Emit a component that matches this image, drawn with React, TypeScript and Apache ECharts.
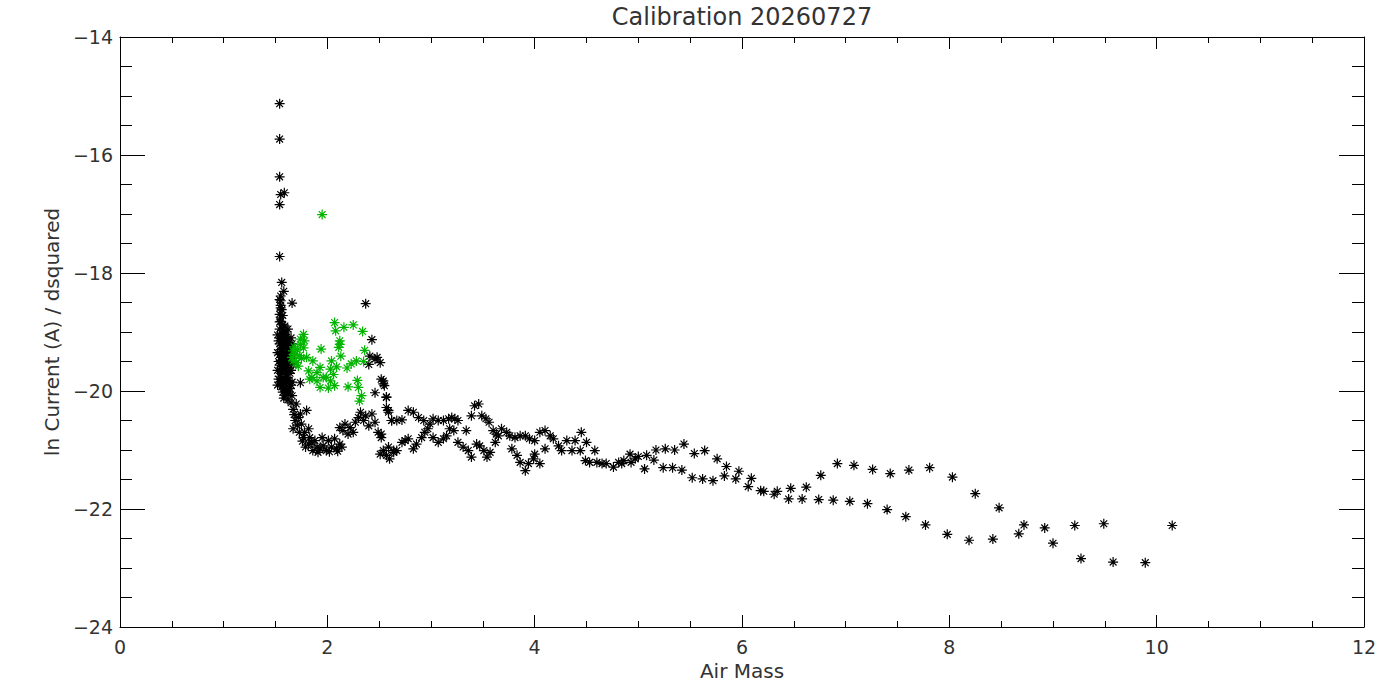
import React, { useEffect, useRef } from "react";
import * as echarts from "echarts";

const TITLE = "Calibration 20260727";
const X_NAME = "Air Mass";
const Y_NAME = "ln Current (A) / dsquared";
const X_MIN = 0;
const X_MAX = 12;
const X_STEP = 2;
const Y_MIN = -24;
const Y_MAX = -14;
const Y_STEP = 2;

// black points: outliers above the cluster
const blackSpike: number[][] = [
  [1.54, -15.13], [1.54, -15.73], [1.54, -16.37], [1.55, -16.67], [1.585, -16.64],
  [1.54, -16.84], [1.54, -17.72], [1.56, -18.16], [1.58, -18.31], [1.55, -18.39],
  [1.55, -18.47], [1.66, -18.51], [1.55, -18.59], [1.54, -18.83], [2.37, -18.52],
];

// black points: dense column near air mass 1.55
const blackCluster: number[][] = [
  [1.54, -18.45], [1.55, -18.55], [1.56, -18.62], [1.54, -18.70], [1.55, -18.82],
  [1.57, -18.88], [1.54, -18.95], [1.56, -19.02], [1.58, -19.05], [1.60, -19.08],
  [1.55, -19.10], [1.57, -19.14], [1.59, -19.17], [1.62, -19.12], [1.54, -19.20],
  [1.56, -19.23], [1.58, -19.26], [1.61, -19.22], [1.63, -19.18], [1.55, -19.30],
  [1.57, -19.33], [1.60, -19.35], [1.62, -19.30], [1.54, -19.38], [1.56, -19.41],
  [1.59, -19.44], [1.61, -19.40], [1.64, -19.36], [1.55, -19.48], [1.57, -19.50],
  [1.60, -19.53], [1.62, -19.48], [1.54, -19.56], [1.56, -19.59], [1.58, -19.62],
  [1.61, -19.60], [1.63, -19.55], [1.55, -19.66], [1.57, -19.69], [1.60, -19.72],
  [1.62, -19.67], [1.54, -19.75], [1.56, -19.78], [1.59, -19.80], [1.61, -19.77],
  [1.55, -19.85], [1.58, -19.88], [1.60, -19.84], [1.63, -19.82], [1.56, -19.93],
  [1.58, -19.96], [1.61, -19.92], [1.57, -20.02], [1.60, -20.00], [1.64, -19.96],
  [1.59, -20.07], [1.62, -20.05], [1.58, -19.00], [1.61, -19.00], [1.55, -18.75],
  [1.57, -18.95], [1.65, -19.10], [1.64, -19.25], [1.66, -19.45], [1.65, -19.65],
  [1.66, -19.85], [1.74, -19.86], [1.52, -19.05], [1.52, -19.35], [1.52, -19.65],
  [1.52, -19.90], [1.53, -19.15], [1.53, -19.50], [1.53, -19.80], [1.65, -19.30],
  [1.66, -19.20], [1.67, -19.55], [1.64, -19.70], [1.65, -19.90], [1.63, -20.02],
  [1.59, -18.90], [1.62, -18.95], [1.57, -18.72], [1.58, -19.40], [1.59, -19.60],
  [1.57, -19.85], [1.60, -19.20],
];

// black points: descent from the cluster to the first trough
const blackDescent: number[][] = [
  [1.58, -20.12], [1.66, -20.08], [1.70, -20.22], [1.67, -20.31], [1.74, -20.39],
  [1.80, -20.33], [1.69, -20.50], [1.75, -20.56], [1.67, -20.64], [1.82, -20.64],
  [1.77, -20.79], [1.83, -20.79], [1.88, -20.84], [1.82, -20.90], [1.90, -20.95],
  [1.96, -20.93], [2.01, -20.84], [2.04, -20.95], [2.09, -20.98], [2.12, -20.90],
  [1.99, -21.01], [1.91, -21.04], [1.86, -21.01], [2.07, -20.81], [1.95, -20.79],
  [1.72, -20.45], [1.78, -20.70], [1.85, -20.88], [1.93, -20.98], [2.02, -21.03],
  [2.10, -21.02], [2.14, -20.95], [1.62, -20.15], [1.65, -20.20], [1.68, -20.40],
  [1.71, -20.58], [1.73, -20.70], [1.76, -20.85], [1.79, -20.95],
];

// black points: small hump between 2.1 and 2.65
const blackHump: number[][] = [
  [2.12, -20.62], [2.17, -20.56], [2.22, -20.62], [2.27, -20.53], [2.32, -20.36],
  [2.35, -20.50], [2.40, -20.59], [2.43, -20.39], [2.46, -20.53], [2.49, -20.70],
  [2.52, -20.79], [2.15, -20.67], [2.25, -20.70], [2.20, -20.73], [2.30, -20.45],
  [2.37, -20.42], [2.43, -19.13], [2.41, -19.41], [2.46, -19.46], [2.51, -19.52],
  [2.40, -19.55], [2.52, -19.80], [2.54, -19.88], [2.46, -20.03], [2.57, -20.11],
  [2.59, -20.33], [2.62, -20.50], [2.51, -21.07], [2.59, -20.95], [2.64, -21.01],
  [2.48, -19.43],
];

// black points: upper track out to air mass 10
const blackUpper: number[][] = [
  [2.54, -19.83], [2.55, -19.91], [2.57, -20.10], [2.57, -20.28], [2.59, -20.36],
  [2.62, -20.50], [2.67, -20.50], [2.72, -20.49], [2.78, -20.33], [2.83, -20.36],
  [2.88, -20.45], [2.93, -20.50], [2.99, -20.56], [3.02, -20.47], [3.07, -20.50],
  [3.12, -20.50], [3.17, -20.47], [3.20, -20.45], [3.23, -20.47], [3.26, -20.50],
  [3.18, -20.64], [3.22, -20.67], [3.34, -20.67], [3.39, -20.42], [3.42, -20.25],
  [3.46, -20.22], [3.49, -20.42], [3.53, -20.47], [3.56, -20.53], [3.60, -20.67],
  [3.63, -20.73], [3.68, -20.64], [3.73, -20.70], [3.76, -20.76], [3.81, -20.79],
  [3.86, -20.76], [3.91, -20.76], [3.95, -20.81], [4.00, -20.84], [4.05, -20.70],
  [4.10, -20.67], [4.15, -20.76], [4.18, -20.81], [4.23, -20.93], [4.26, -21.01],
  [4.31, -20.84], [4.36, -21.01], [4.39, -20.84], [4.44, -21.01], [4.45, -20.70],
  [4.50, -20.87], [4.58, -21.01], [4.49, -21.18], [4.53, -21.21], [4.60, -21.21],
  [4.65, -21.23], [4.69, -21.23], [4.76, -21.29], [4.81, -21.21], [4.86, -21.18],
  [4.92, -21.07], [5.00, -21.11], [5.08, -21.09], [5.17, -21.00], [5.26, -20.98],
  [5.35, -21.00], [5.44, -20.90], [5.54, -21.06], [5.64, -21.01], [5.76, -21.15],
  [5.85, -21.28], [5.97, -21.36], [6.09, -21.48], [6.18, -21.69], [6.21, -21.70],
  [6.31, -21.75], [6.34, -21.70], [6.47, -21.65], [6.62, -21.63], [6.76, -21.43],
  [6.92, -21.23], [7.08, -21.26], [7.26, -21.33], [7.43, -21.40], [7.61, -21.34],
  [7.81, -21.30], [8.03, -21.46], [8.25, -21.74], [8.48, -21.98], [8.72, -22.27],
  [8.67, -22.42], [8.92, -22.32], [9.00, -22.58], [9.21, -22.28], [9.49, -22.25],
  [10.15, -22.28],
];

// black points: lower track out to air mass 10
const blackLower: number[][] = [
  [2.52, -20.73], [2.54, -21.01], [2.57, -21.09], [2.60, -21.15], [2.64, -21.04],
  [2.67, -21.01], [2.72, -20.87], [2.75, -20.84], [2.78, -20.81], [2.83, -20.98],
  [2.86, -20.90], [2.91, -20.79], [2.94, -20.70], [2.97, -20.64], [3.02, -20.79],
  [3.07, -20.87], [3.12, -20.81], [3.15, -20.76], [3.26, -20.87], [3.31, -20.95],
  [3.36, -21.01], [3.39, -21.12], [3.44, -20.90], [3.47, -20.93], [3.51, -21.01],
  [3.54, -21.12], [3.57, -21.04], [3.62, -20.87], [3.65, -20.76], [3.78, -20.98],
  [3.83, -21.09], [3.86, -21.21], [3.91, -21.35], [3.94, -21.23], [3.99, -21.15],
  [4.05, -21.23], [4.00, -21.07], [4.10, -20.98], [4.84, -21.23], [4.93, -21.21],
  [4.97, -21.15], [5.06, -21.32], [5.15, -21.17], [5.24, -21.30], [5.33, -21.30],
  [5.42, -21.34], [5.52, -21.47], [5.62, -21.49], [5.72, -21.52], [5.83, -21.44],
  [5.94, -21.49], [6.06, -21.62], [6.45, -21.83], [6.58, -21.83], [6.74, -21.84],
  [6.88, -21.85], [7.04, -21.87], [7.21, -21.91], [7.40, -22.01], [7.58, -22.13],
  [7.77, -22.27], [7.98, -22.43], [8.19, -22.53], [8.42, -22.51], [9.27, -22.84],
  [9.58, -22.90], [9.89, -22.91],
];

// green points
const greenPoints: number[][] = [
  [1.95, -17.01], [2.07, -18.84], [2.16, -18.92], [2.25, -18.88], [2.34, -18.99],
  [2.08, -18.98], [1.77, -19.04], [2.12, -19.15], [1.94, -19.29], [2.11, -19.26],
  [2.13, -19.41], [2.36, -19.31], [1.74, -19.21], [1.69, -19.38], [1.67, -19.49],
  [1.80, -19.43], [1.86, -19.49], [1.93, -19.60], [2.03, -19.63], [2.09, -19.59],
  [2.19, -19.61], [2.23, -19.54], [2.28, -19.49], [2.35, -19.50], [1.85, -19.77],
  [1.90, -19.69], [1.99, -19.77], [2.03, -19.83], [1.93, -19.94], [2.01, -19.95],
  [2.07, -19.91], [1.83, -19.80], [2.20, -19.93], [2.29, -19.82], [2.30, -19.94],
  [2.33, -20.08], [2.31, -20.17], [1.67, -19.32], [1.77, -19.27], [1.78, -19.15],
  [1.70, -19.52], [1.82, -19.66], [1.90, -19.83], [1.96, -19.77], [2.06, -19.72],
  [1.66, -19.43], [2.04, -19.49], [2.12, -19.21], [1.74, -19.12], [1.72, -19.58],
  [1.71, -19.30], [1.75, -19.45], [1.68, -19.25], [1.73, -19.40],
];

const BLACK = "#000000";
const GREEN = "#00b400";
const FONT = "DejaVu Sans";
const TEXT = "#333333";
const STAR = "path://M5,0L5,10M0,5L10,5M1.6,1.6L8.4,8.4M1.6,8.4L8.4,1.6";

const fmt = (v: number) => String(v).replace("-", "\u2212");

function xAxisOpt(pos: "bottom" | "top", withLabels: boolean, name: string, nameSize: number, nameGap: number) {
  return {
    type: "value",
    position: pos,
    min: X_MIN,
    max: X_MAX,
    interval: X_STEP,
    name,
    nameLocation: "middle",
    nameGap,
    nameTextStyle: { fontFamily: FONT, fontSize: nameSize, color: TEXT },
    axisLine: { show: true, onZero: false, lineStyle: { color: "#000", width: 1 } },
    axisTick: { show: true, inside: true, length: 12, lineStyle: { color: "#000", width: 1 } },
    minorTick: { show: true, splitNumber: 4, length: 6, lineStyle: { color: "#000", width: 1 } },
    splitLine: { show: false },
    minorSplitLine: { show: false },
    axisLabel: {
      show: withLabels,
      margin: 10,
      fontFamily: FONT,
      fontSize: 19,
      color: TEXT,
      formatter: fmt,
    },
  };
}

function yAxisOpt(pos: "left" | "right", withLabels: boolean, name: string) {
  return {
    type: "value",
    position: pos,
    min: Y_MIN,
    max: Y_MAX,
    interval: Y_STEP,
    name,
    nameLocation: "middle",
    nameGap: 58,
    nameTextStyle: { fontFamily: FONT, fontSize: 20, color: TEXT },
    axisLine: { show: true, onZero: false, lineStyle: { color: "#000", width: 1 } },
    axisTick: { show: true, inside: true, length: 25, lineStyle: { color: "#000", width: 1 } },
    minorTick: { show: true, splitNumber: 4, length: 12, lineStyle: { color: "#000", width: 1 } },
    splitLine: { show: false },
    minorSplitLine: { show: false },
    axisLabel: {
      show: withLabels,
      margin: 7,
      fontFamily: FONT,
      fontSize: 19,
      color: TEXT,
      formatter: fmt,
    },
  };
}

function starSeries(name: string, data: number[][], color: string) {
  return {
    name,
    type: "scatter",
    data,
    symbol: STAR,
    symbolSize: 10,
    silent: true,
    itemStyle: { color, borderColor: color, borderWidth: 1.2, opacity: 1 },
    emphasis: { disabled: true },
  };
}

export default function App() {
  const ref = useRef<HTMLDivElement>(null);
  useEffect(() => {
    if (!ref.current) return;
    const chart = echarts.init(ref.current, undefined, { renderer: "svg" });
    chart.setOption({
      animation: false,
      backgroundColor: "#ffffff",
      grid: { left: 120, right: 36, top: 35, bottom: 73, containLabel: false },
      xAxis: [
        xAxisOpt("bottom", true, X_NAME, 20, 34),
        xAxisOpt("top", false, TITLE, 24, 8),
      ],
      yAxis: [yAxisOpt("left", true, Y_NAME), yAxisOpt("right", false, "")],
      series: [
        starSeries("black-spike", blackSpike, BLACK),
        starSeries("black-cluster", blackCluster, BLACK),
        starSeries("black-descent", blackDescent, BLACK),
        starSeries("black-hump", blackHump, BLACK),
        starSeries("black-upper", blackUpper, BLACK),
        starSeries("black-lower", blackLower, BLACK),
        starSeries("green", greenPoints, GREEN),
      ],
    });
    return () => chart.dispose();
  }, []);
  return (
    <div
      ref={ref}
      style={{ position: "fixed", left: 0, top: 0, width: 1400, height: 700, background: "#fff" }}
    />
  );
}
